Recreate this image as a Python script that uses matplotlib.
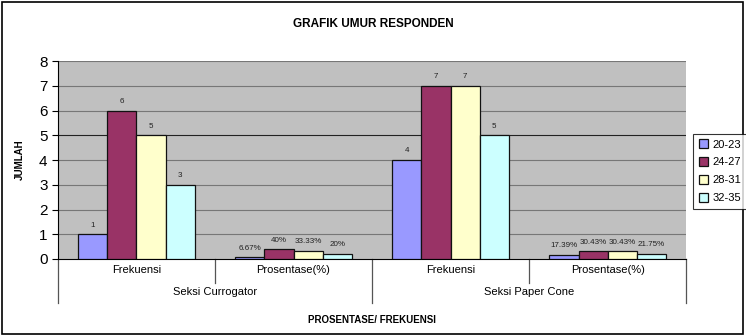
import matplotlib
matplotlib.use("Agg")
import matplotlib.pyplot as plt
from matplotlib.lines import Line2D
from matplotlib.patches import Rectangle
import numpy as np

plt.rcParams['font.family'] = ['Liberation Sans', 'DejaVu Sans']

# data
sub_labels = ["Frekuensi", "Prosentase(%)", "Frekuensi", "Prosentase(%)"]
group_labels = ["Seksi Currogator", "Seksi Paper Cone"]
series_names = ["20-23", "24-27", "28-31", "32-35"]
val_20_23 = [1, 0.0667, 4, 0.1739]
val_24_27 = [6, 0.40, 7, 0.3043]
val_28_31 = [5, 0.3333, 7, 0.3043]
val_32_35 = [3, 0.20, 5, 0.2175]
lbl_20_23 = ["1", "6.67%", "4", "17.39%"]
lbl_24_27 = ["6", "40%", "7", "30.43%"]
lbl_28_31 = ["5", "33.33%", "7", "30.43%"]
lbl_32_35 = ["3", "20%", "5", "21.75%"]
colors = ["#9999FF", "#993366", "#FFFFCC", "#CCFFFF"]

series = [val_20_23, val_24_27, val_28_31, val_32_35]
labels = [lbl_20_23, lbl_24_27, lbl_28_31, lbl_32_35]

fig = plt.figure(figsize=(7.46, 3.36), dpi=100)
fig.patches.append(Rectangle((0.003, 0.006), 0.993, 0.988, transform=fig.transFigure,
                             fill=False, edgecolor="black", linewidth=1.2))

ax = fig.add_axes([0.0777, 0.2292, 0.842, 0.589])
ax.set_facecolor("#C0C0C0")

x = np.arange(len(sub_labels))
w = 0.185
for i, (vals, lbls) in enumerate(zip(series, labels)):
    pos = x + (i - 1.5) * w
    bars = ax.bar(pos, vals, width=w, color=colors[i], edgecolor="#111111",
                  linewidth=0.9, label=series_names[i], zorder=3)
    for b, t in zip(bars, lbls):
        ax.annotate(t, (b.get_x() + b.get_width() / 2, b.get_height()),
                    xytext=(0, 4), textcoords="offset points",
                    ha="center", va="bottom", fontsize=5.8, color="#222222")

ax.set_xlim(-0.5, 3.5)
ax.set_ylim(0, 8)
ax.set_yticks(range(0, 9))
ax.tick_params(axis="y", labelsize=11, length=4, direction="out")
ax.set_xticks([])
for yv in range(1, 9):
    ax.axhline(yv, color="#222222" if yv == 5 else "#777777", lw=0.8, zorder=1)
for s in ["top", "right"]:
    ax.spines[s].set_visible(False)
ax.spines["left"].set_linewidth(0.8)
ax.spines["bottom"].set_linewidth(0.8)

# hierarchical category axis
trans = ax.get_xaxis_transform()
for i, t in enumerate(sub_labels):
    ax.text(x[i], -0.055, t, transform=trans, ha="center", va="center", fontsize=8)
for xb in [0.5, 2.5]:
    ax.add_line(Line2D([xb, xb], [0, -0.12], transform=trans, color="#555555",
                       lw=0.9, clip_on=False))
for xb in [-0.5, 1.5, 3.5]:
    ax.add_line(Line2D([xb, xb], [0, -0.22], transform=trans, color="#555555",
                       lw=0.9, clip_on=False))
for j, g in enumerate(group_labels):
    ax.text(2 * j + 0.5, -0.165, g, transform=trans, ha="center", va="center", fontsize=8)

ax.text(0.5, -0.31, "PROSENTASE/ FREKUENSI", transform=ax.transAxes, ha="center",
        va="center", fontsize=7, fontweight="bold")
ax.set_ylabel("JUMLAH", fontsize=7, fontweight="bold", labelpad=10)

fig.text(0.5, 0.93, "GRAFIK UMUR RESPONDEN", ha="center", va="center",
         fontsize=8.5, fontweight="bold")

leg = fig.legend(loc="center left", bbox_to_anchor=(0.922, 0.49), fontsize=8,
                 frameon=True, fancybox=False, edgecolor="black",
                 handlelength=0.8, handleheight=0.8, handletextpad=0.4,
                 borderpad=0.5, labelspacing=0.7)
leg.get_frame().set_linewidth(0.8)

fig.savefig("out.png", dpi=100)
